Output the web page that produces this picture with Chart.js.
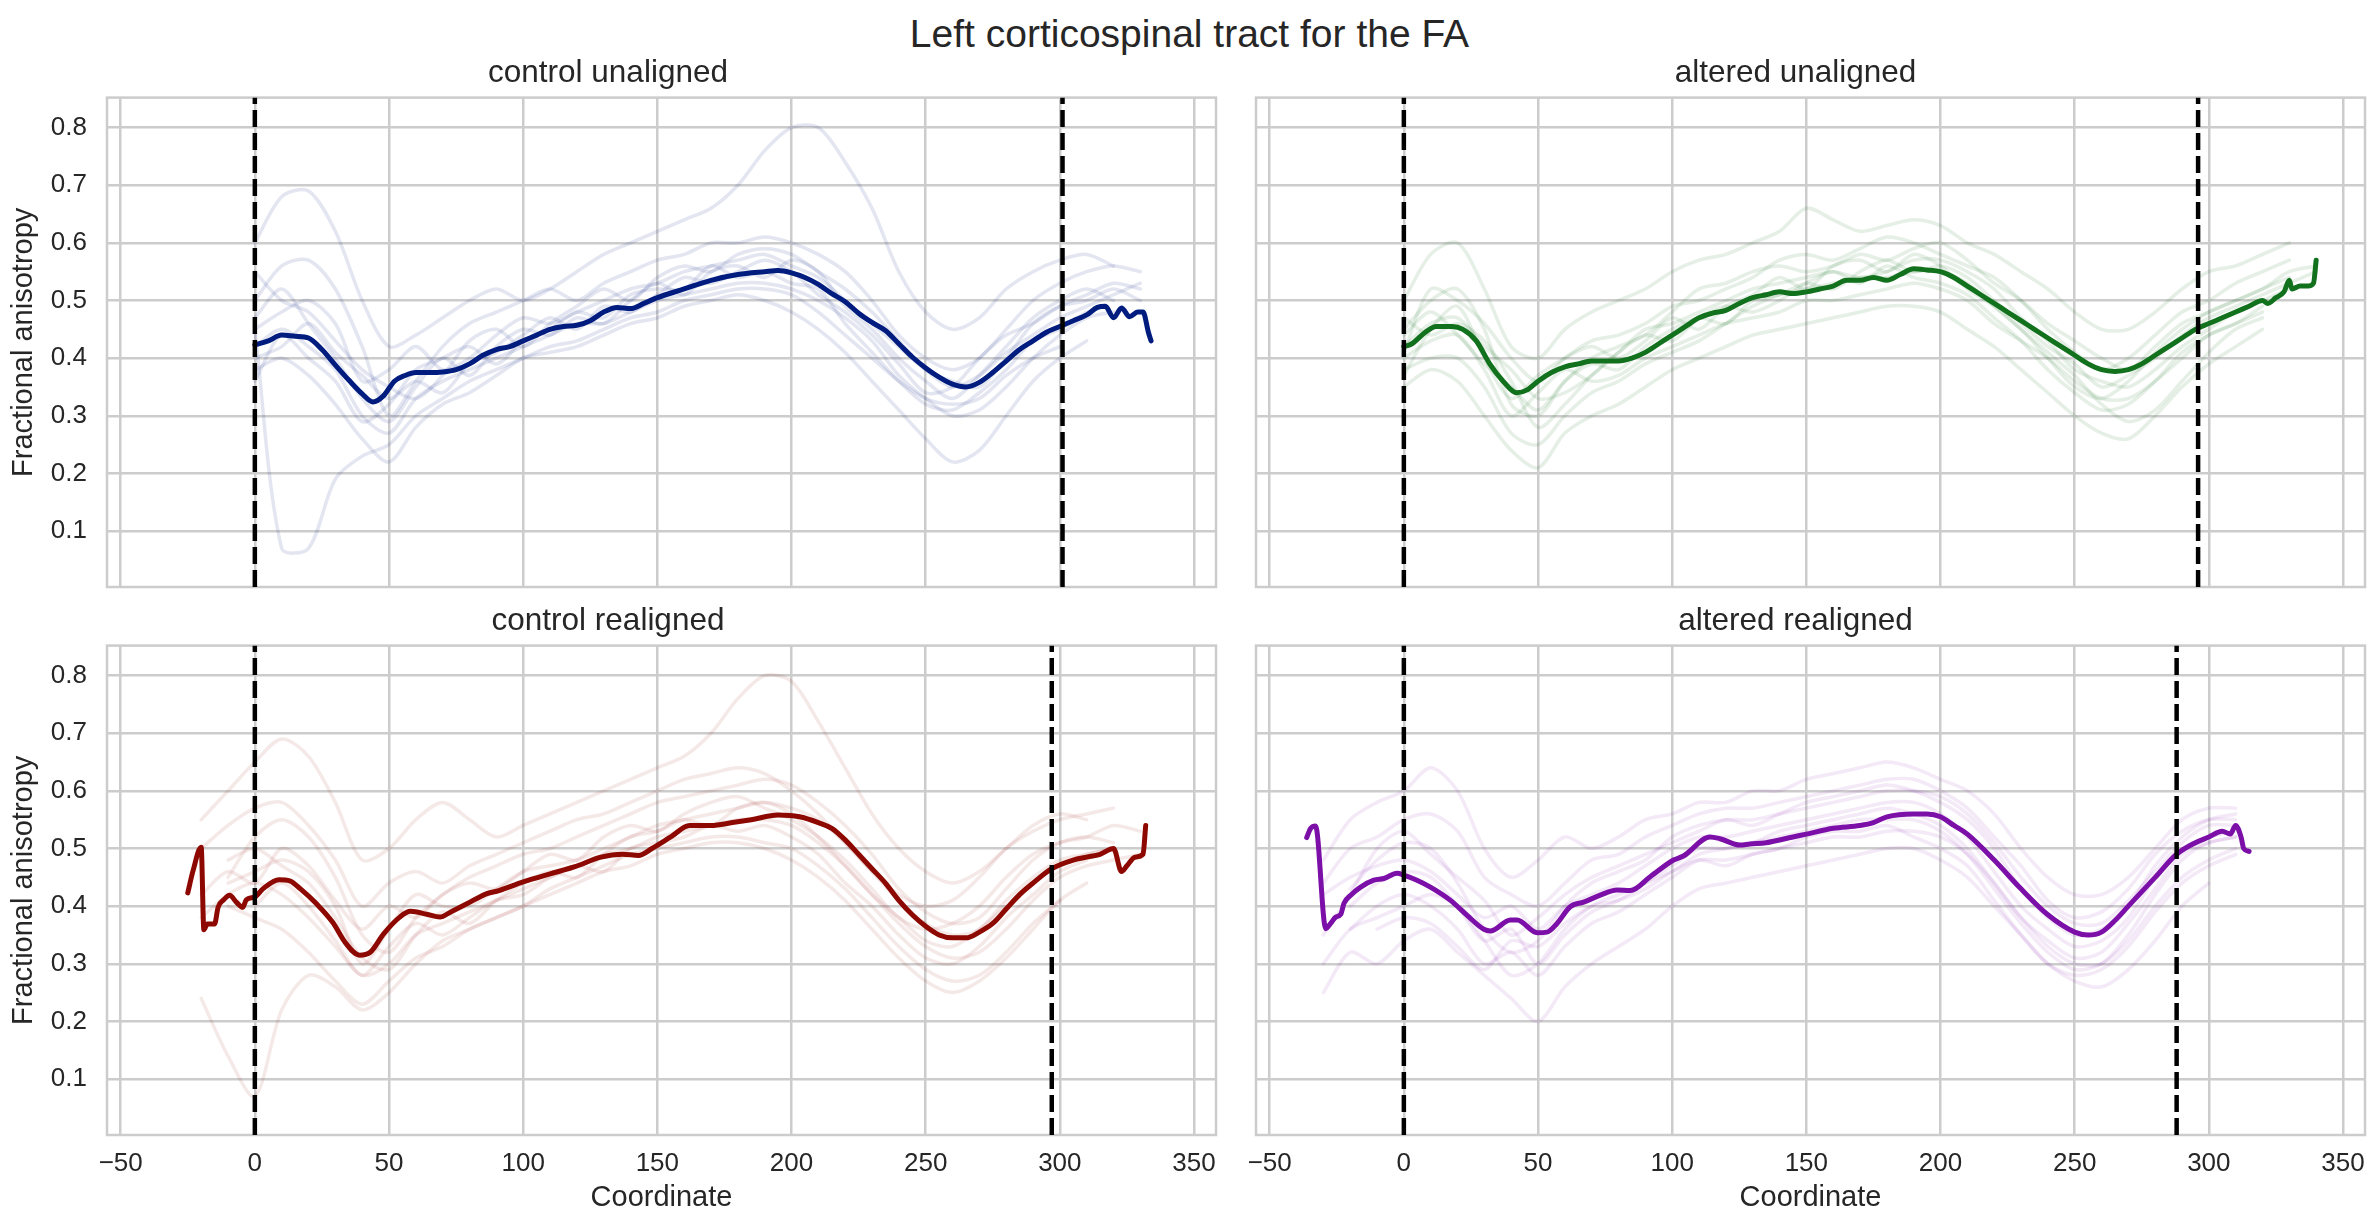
<!DOCTYPE html>
<html><head><meta charset="utf-8">
<script src="https://cdn.jsdelivr.net/npm/chart.js@4.4.1/dist/chart.umd.min.js"></script>
<style>
html,body{margin:0;padding:0;background:#fff;}
body{width:2379px;height:1229px;position:relative;overflow:hidden;font-family:"Liberation Sans",Arial,sans-serif;}
#sup{position:absolute;left:0;top:14px;width:2379px;text-align:center;font-size:39px;line-height:39px;color:#262626;white-space:nowrap;}
.w{position:absolute;}
</style></head><body>
<div id="sup">Left corticospinal tract for the FA</div>
<div class="w" style="left:0px;top:40px;width:1236px;height:587px"><canvas id="ctl" width="1236" height="587"></canvas></div>
<div class="w" style="left:1226px;top:40px;width:1153px;height:587px"><canvas id="ctr" width="1153" height="587"></canvas></div>
<div class="w" style="left:0px;top:597px;width:1236px;height:632px"><canvas id="cbl" width="1236" height="632"></canvas></div>
<div class="w" style="left:1226px;top:597px;width:1153px;height:632px"><canvas id="cbr" width="1153" height="632"></canvas></div>
<script>
// ---------- axes / labels ----------
const xTicks = [-50, 0, 50, 100, 150, 200, 250, 300, 350];
const yTicks = [0.1, 0.2, 0.3, 0.4, 0.5, 0.6, 0.7, 0.8];
const xLimits = [-55.1, 358.2];
const yLimits = [0.003, 0.852];
const panelTitles = ['control unaligned', 'altered unaligned', 'control realigned', 'altered realigned'];
const xLabel = 'Coordinate';
const yLabel = 'Fractional anisotropy';

// dashed boundary positions per panel
const tlBounds = [0, 301];
const trBounds = [0, 296];
const blBounds = [0, 297];
const brBounds = [0, 288];

// ---------- control unaligned ----------
const tlMeanX = [0,5,10,15,20,25,30,35,40,44,48,52,56,60,65,70,75,80,85,90,95,100,105,110,115,120,125,130,135,140,145,150,160,170,180,190,195,200,205,210,215,220,225,230,235,240,245,250,255,260,265,270,275,280,285,290,295,300,305,310,314,317,320,323,326,329,331,333,334];
const tlMeanY = [.423,.43,.44,.438,.435,.415,.388,.362,.338,.324,.335,.36,.37,.375,.375,.376,.38,.39,.405,.415,.42,.43,.44,.45,.455,.457,.465,.48,.488,.486,.495,.505,.52,.535,.545,.55,.552,.548,.54,.528,.512,.498,.478,.462,.448,.425,.402,.383,.367,.355,.35,.358,.375,.395,.415,.43,.445,.455,.465,.475,.488,.49,.47,.487,.472,.48,.48,.445,.43];
const tlFaintX = [0,10,20,30,40,50,60,70,80,90,100,110,120,130,140,150,160,170,180,190,200,210,220,230,240,250,260,270,280,290,300,310,320,330];
const tlFaintA = [.60,.68,.69,.62,.50,.42,.44,.47,.50,.52,.50,.52,.55,.58,.60,.62,.64,.66,.70,.76,.80,.80,.74,.66,.55,.48,.45,.47,.52,.55,.57,.58,.56];
const tlFaintB = [.45,.07,.07,.19,.23,.25,.30,.33,.36,.38,.40,.42,.43,.45,.47,.48,.50,.51,.52,.52,.51,.48,.44,.40,.36,.33,.32,.33,.37,.40,.42];
const tlFaintC = [.50,.56,.57,.52,.42,.30,.36,.42,.46,.48,.50,.52,.50,.53,.55,.57,.58,.60,.60,.61,.60,.58,.55,.50,.44,.40,.38,.40,.45,.50,.53,.55,.56,.55];
const tlFaintD = [.38,.40,.37,.32,.26,.22,.28,.32,.34,.37,.40,.41,.42,.44,.46,.47,.49,.50,.51,.50,.48,.45,.41,.36,.31,.26,.22,.24,.30,.36,.40,.43];
const tlFaintE = [.45,.48,.50,.46,.36,.38,.42,.38,.40,.44,.47,.46,.48,.50,.52,.53,.55,.56,.57,.58,.56,.54,.50,.46,.42,.38,.36,.35,.40,.46,.49,.50,.52,.50];
const tlFaintF = [.42,.45,.42,.38,.30,.27,.33,.36,.38,.40,.42,.44,.46,.46,.48,.50,.51,.52,.53,.53,.52,.50,.47,.43,.37,.33,.30,.31,.35,.40,.44,.47,.48];
const tlFaintG = [.47,.52,.46,.40,.33,.29,.35,.40,.37,.42,.45,.44,.47,.46,.50,.53,.51,.55,.56,.54,.57,.55,.49,.45,.40,.36,.33,.37,.42,.47,.50,.52,.50];
const tlFaintH = [.40,.42,.46,.41,.37,.33,.36,.34,.39,.41,.44,.47,.45,.49,.48,.51,.54,.53,.55,.57,.55,.51,.48,.44,.39,.34,.35,.40,.44,.46,.49,.51,.53,.52];
const tlFaintI = [.36,.44,.40,.36,.29,.32,.38,.40,.42,.39,.43,.45,.48,.47,.51,.52,.52,.56,.54,.55,.53,.52,.46,.41,.36,.32,.31,.34,.38,.43,.45,.48];
const tlFaintJ = [.55,.50,.48,.43,.38,.35,.33,.37,.43,.45,.42,.46,.49,.52,.50,.54,.56,.55,.58,.59,.58,.55,.52,.48,.43,.38,.35,.37,.41,.44,.47,.49,.51,.53];

// ---------- altered unaligned ----------
const trMeanX = [0,3,8,12,18,22,27,32,37,42,46,50,55,60,65,70,75,80,85,90,95,100,105,110,115,120,125,130,135,140,145,150,155,160,165,170,175,180,185,190,195,200,205,210,215,220,225,230,235,240,245,250,255,260,265,270,275,280,285,290,295,300,305,310,315,320,322,325,328,330,331,334,337,339,340];
const trMeanY = [.42,.425,.445,.455,.455,.45,.43,.39,.36,.34,.345,.36,.375,.385,.39,.395,.395,.395,.40,.41,.425,.44,.455,.47,.478,.483,.495,.505,.51,.515,.512,.515,.52,.525,.535,.535,.54,.535,.545,.555,.553,.55,.54,.525,.51,.495,.48,.465,.45,.435,.42,.405,.39,.38,.377,.38,.39,.405,.42,.435,.45,.46,.47,.48,.49,.50,.495,.505,.515,.535,.52,.525,.525,.53,.57];
const trFaintX = [0,10,20,30,40,50,60,70,80,90,100,110,120,130,140,150,160,170,180,190,200,210,220,230,240,250,260,270,280,290,300,310,320,330,340];
const trFaintA = [.50,.58,.60,.52,.42,.40,.45,.48,.50,.52,.55,.57,.58,.60,.62,.66,.64,.62,.63,.64,.63,.60,.58,.55,.52,.48,.45,.45,.48,.52,.55,.56,.58,.60];
const trFaintB = [.35,.38,.36,.30,.24,.21,.27,.30,.32,.35,.38,.40,.42,.44,.45,.46,.47,.48,.49,.49,.48,.45,.42,.38,.34,.30,.27,.26,.30,.35,.39,.42,.45];
const trFaintC = [.45,.50,.52,.45,.32,.30,.36,.40,.42,.44,.48,.52,.53,.55,.56,.55,.56,.58,.57,.59,.60,.57,.53,.50,.46,.43,.40,.38,.42,.46,.48,.50,.52,.55,.56];
const trFaintD = [.40,.43,.44,.38,.30,.34,.38,.36,.37,.40,.42,.44,.46,.47,.48,.50,.50,.51,.52,.53,.52,.50,.46,.43,.40,.36,.33,.33,.36,.40,.44,.46,.48];
const trFaintE = [.42,.46,.47,.42,.38,.33,.34,.37,.41,.45,.46,.48,.50,.52,.53,.54,.55,.54,.55,.57,.57,.55,.52,.47,.43,.38,.36,.35,.38,.42,.45,.48,.50,.52];
const trFaintF = [.38,.40,.40,.35,.27,.25,.30,.34,.36,.39,.41,.43,.46,.49,.51,.52,.53,.54,.54,.55,.55,.53,.49,.45,.41,.37,.32,.29,.31,.36,.41,.45,.47];
const trFaintG = [.44,.48,.44,.39,.35,.31,.36,.39,.38,.42,.45,.47,.46,.50,.51,.53,.52,.55,.57,.55,.56,.54,.50,.46,.42,.39,.35,.37,.40,.44,.47,.49,.51,.53,.55];
const trFaintH = [.37,.45,.49,.40,.33,.37,.40,.42,.40,.43,.47,.45,.49,.51,.54,.52,.56,.57,.55,.58,.56,.52,.49,.45,.40,.35,.33,.36,.41,.45,.48,.50,.52,.54];
const trFaintI = [.47,.44,.46,.43,.36,.28,.32,.37,.41,.44,.43,.47,.49,.48,.50,.53,.55,.53,.56,.54,.53,.51,.47,.43,.38,.34,.31,.32,.36,.41,.44,.46,.49];
const trFaintJ = [.41,.52,.50,.46,.40,.36,.40,.43,.44,.46,.49,.50,.52,.54,.57,.58,.57,.59,.61,.60,.58,.56,.54,.50,.45,.41,.38,.40,.44,.48,.50,.53,.55,.57];

// ---------- control realigned ----------
const blMeanX = [-25,-23,-20,-19,-17.7,-15,-13.7,-11.6,-9.4,-6.9,-4.5,-3.2,0,3,9,13,17,23,29,34,39,43,48,54,58,64,69,73,79,86,91,100,110,119,129,137,143,148,155,162,170,178,185,195,203,210,215,220,225,230,235,240,245,250,255,260,265,270,275,280,285,290,297,305,310,315,320,323,325,328,331,332];
const blMeanY = [.423,.462,.502,.359,.369,.369,.398,.411,.419,.407,.398,.411,.416,.43,.446,.444,.43,.404,.372,.335,.315,.32,.352,.381,.391,.386,.381,.39,.404,.421,.427,.442,.456,.468,.485,.49,.488,.50,.52,.54,.54,.545,.55,.558,.555,.545,.535,.515,.49,.465,.44,.41,.385,.365,.35,.345,.345,.355,.37,.395,.42,.44,.465,.48,.485,.49,.50,.46,.47,.485,.49,.54];
const blFaintX = [-20,-10,0,10,20,30,40,50,60,70,80,90,100,110,120,130,140,150,160,170,180,190,200,210,220,230,240,250,260,270,280,290,300,310,320,330];
const blFaintA = [.55,.60,.65,.69,.66,.58,.48,.50,.55,.58,.55,.52,.54,.56,.58,.60,.62,.64,.66,.70,.76,.80,.79,.72,.64,.56,.50,.46,.44,.46,.50,.54,.56,.55];
const blFaintB = [.24,.14,.07,.22,.28,.26,.22,.25,.30,.34,.36,.38,.40,.43,.45,.47,.49,.50,.51,.52,.52,.51,.50,.47,.43,.38,.33,.29,.27,.28,.32,.37,.41];
const blFaintC = [null,.45,.52,.55,.52,.45,.35,.32,.38,.42,.45,.47,.49,.50,.52,.54,.56,.58,.59,.60,.61,.62,.61,.58,.54,.49,.43,.39,.37,.38,.43,.48,.51,.52,.51];
const blFaintD = [null,.40,.38,.36,.32,.27,.23,.27,.31,.33,.36,.38,.40,.42,.44,.46,.47,.49,.50,.51,.51,.50,.48,.45,.41,.36,.31,.27,.25,.27,.31,.36,.41,.44];
const blFaintE = [null,.44,.46,.48,.46,.40,.30,.36,.42,.40,.40,.43,.46,.47,.48,.50,.52,.54,.55,.56,.57,.58,.57,.55,.51,.46,.41,.37,.35,.36,.41,.45,.48,.49,.50];
const blFaintF = [.38,.42,.44,.42,.38,.33,.28,.30,.35,.37,.39,.41,.43,.45,.47,.49,.50,.52,.53,.54,.55,.55,.54,.51,.47,.42,.37,.33,.31,.32,.36,.41,.45,.47,.48,.49];
const blFaintG = [null,.48,.50,.47,.44,.38,.31,.29,.35,.39,.37,.41,.44,.46,.45,.49,.52,.53,.55,.54,.57,.58,.56,.52,.47,.42,.38,.34,.33,.36,.40,.44,.47,.49,.50];
const blFaintH = [.42,.46,.44,.50,.47,.41,.36,.40,.38,.42,.44,.43,.46,.49,.48,.52,.54,.53,.56,.58,.59,.57,.55,.52,.48,.43,.38,.36,.37,.40,.45,.49,.51,.52,.54,.53];
const blFaintI = [null,null,.40,.44,.40,.34,.28,.33,.37,.35,.38,.41,.42,.45,.47,.46,.50,.51,.52,.54,.53,.54,.52,.49,.44,.40,.35,.31,.30,.33,.38,.42,.46,.48];
const blFaintJ = [.50,.54,.57,.58,.54,.48,.40,.44,.46,.44,.47,.49,.51,.53,.55,.56,.58,.60,.62,.63,.64,.63,.60,.56,.51,.46,.42,.40,.41,.45,.50,.53,.55,.56,.57];

// ---------- altered realigned ----------
const brMeanX = [-36.2,-34.7,-32.9,-29.1,-27.3,-25.4,-23.5,-22.3,-19.8,-16.1,-11.2,-7.4,-2.5,0,4.9,9.9,17.4,23.6,29.8,32.3,39.7,42.2,49.7,53.4,57.1,62,67,73.2,79.4,84.4,91.8,100.5,104.2,114.1,117.8,125.3,129,135,145,150,160,170,175,180,190,195,200,205,210,220,230,240,250,255,260,265,270,280,288,295,300,305,308,310,312,313,315];
const brMeanY = [.519,.535,.539,.361,.370,.381,.386,.405,.419,.433,.445,.448,.457,.454,.445,.433,.410,.384,.360,.357,.376,.376,.354,.355,.370,.399,.407,.419,.428,.427,.451,.480,.487,.520,.517,.506,.508,.51,.52,.525,.535,.54,.545,.555,.56,.56,.555,.54,.525,.48,.43,.385,.355,.35,.355,.375,.40,.45,.49,.51,.52,.53,.525,.54,.52,.50,.495];
const brFaintX = [-30,-20,-10,0,10,20,30,40,50,60,70,80,90,100,110,120,130,140,150,160,170,180,190,200,210,220,230,240,250,260,270,280,290,300,310];
const brFaintA = [.48,.55,.58,.60,.64,.60,.50,.45,.48,.52,.50,.52,.55,.56,.58,.58,.60,.60,.62,.63,.64,.65,.64,.62,.60,.56,.50,.45,.42,.42,.45,.50,.55,.57,.57];
const brFaintB = [.25,.32,.30,.34,.36,.32,.28,.24,.20,.26,.30,.33,.36,.40,.43,.44,.45,.46,.47,.48,.49,.50,.50,.48,.45,.40,.35,.30,.27,.26,.29,.34,.40,.44];
const brFaintC = [null,.43,.48,.51,.50,.44,.36,.32,.34,.40,.44,.46,.48,.52,.54,.55,.55,.56,.57,.58,.59,.60,.60,.59,.56,.51,.45,.40,.37,.37,.41,.46,.51,.54,.54];
const brFaintD = [null,.36,.40,.42,.40,.36,.30,.32,.28,.33,.37,.39,.42,.45,.48,.48,.49,.50,.51,.52,.52,.53,.53,.52,.49,.44,.38,.33,.30,.30,.34,.40,.45,.48,.50];
const brFaintE = [.42,.45,.47,.48,.46,.42,.38,.40,.36,.40,.42,.44,.47,.50,.52,.52,.53,.54,.55,.56,.57,.58,.58,.56,.52,.46,.40,.36,.33,.34,.38,.45,.50,.52,.53];
const brFaintF = [.30,.36,.38,.40,.42,.40,.34,.28,.30,.36,.40,.42,.44,.46,.49,.50,.51,.52,.53,.54,.55,.55,.55,.53,.49,.43,.37,.32,.29,.30,.35,.42,.48,.51,.52];
const brFaintG = [null,.40,.44,.46,.45,.40,.34,.36,.30,.35,.39,.41,.44,.47,.50,.50,.51,.53,.54,.55,.56,.57,.56,.54,.50,.44,.38,.34,.31,.32,.37,.43,.49,.51,.52];
const brFaintH = [.35,.42,.50,.53,.49,.45,.41,.35,.38,.42,.45,.47,.49,.51,.53,.55,.54,.56,.58,.59,.60,.61,.60,.58,.55,.50,.43,.38,.35,.36,.40,.47,.52,.55,.56];
const brFaintI = [null,null,.36,.38,.37,.33,.29,.34,.33,.37,.40,.41,.43,.46,.48,.47,.49,.50,.52,.53,.53,.54,.52,.50,.47,.41,.35,.30,.28,.29,.33,.39,.44,.47,.49];
const brFaintJ = [.44,.50,.52,.55,.56,.53,.45,.42,.40,.44,.48,.49,.52,.54,.56,.57,.57,.58,.59,.60,.61,.62,.62,.60,.57,.52,.47,.41,.38,.39,.43,.49,.53,.55,.55];

// ---------- colours ----------
const colBlue = '#001c7f', colGreen = '#12711c', colRed = '#8c0800', colPurple = '#7b0fa8';
const fBlue = 'rgba(0,28,127,0.11)', fGreen = 'rgba(18,113,28,0.11)', fRed = 'rgba(140,8,0,0.09)', fPurple = 'rgba(123,15,168,0.09)';

const FONT = '"Liberation Sans", Arial, sans-serif';
const TEXT = '#262626';
const GRID = '#cccccc';

function pts(xs, ys) {
  const out = [];
  for (let i = 0; i < xs.length && i < ys.length; i++) out.push({x: xs[i], y: ys[i]});
  return out;
}

const framePlugin = {
  id: 'frame',
  beforeDatasetsDraw(chart) {
    const {ctx, chartArea: a} = chart;
    ctx.save();
    ctx.strokeStyle = GRID;
    ctx.lineWidth = 2.5;
    ctx.strokeRect(a.left, a.top, a.right - a.left, a.bottom - a.top);
    ctx.restore();
  }
};

function makePanel(id, p) {
  const ds = [];
  p.bounds.forEach(b => ds.push({
    data: [{x: b, y: yLimits[0]}, {x: b, y: yLimits[1]}],
    borderColor: '#000', borderWidth: 4.5, borderDash: [17, 6], borderCapStyle: 'butt',
    pointRadius: 0, tension: 0, order: 0
  }));
  ds.push({
    data: pts(p.meanX, p.meanY), borderColor: p.color, borderWidth: 5,
    pointRadius: 0, tension: 0.3, cubicInterpolationMode: 'monotone',
    borderJoinStyle: 'round', borderCapStyle: 'round', order: 1
  });
  p.faint.forEach(f => ds.push({
    data: pts(p.faintX, f), borderColor: p.faintColor, borderWidth: 3.5,
    pointRadius: 0, tension: 0.3, borderJoinStyle: 'round', borderCapStyle: 'round', order: 2
  }));
  const top = p.row === 0;
  return new Chart(document.getElementById(id), {
    type: 'line',
    data: {datasets: ds},
    plugins: [framePlugin],
    options: {
      responsive: false, maintainAspectRatio: false, animation: false, events: [],
      layout: {padding: {left: 0, right: p.padRight, top: top ? 14.4 : 5.4, bottom: 0}},
      plugins: {
        legend: {display: false}, tooltip: {enabled: false},
        title: {display: true, text: p.title, color: TEXT, font: {family: FONT, size: 31.5, weight: 'normal'}, padding: {top: 0, bottom: 5.4}}
      },
      scales: {
        x: {
          type: 'linear', min: xLimits[0], max: xLimits[1],
          afterBuildTicks: s => { s.ticks = xTicks.map(v => ({value: v})); },
          afterFit: s => { s.height = top ? 40 : 94; },
          grid: {color: GRID, lineWidth: 2.5, drawTicks: false},
          border: {display: false},
          ticks: {display: !top, autoSkip: false, maxRotation: 0, padding: 13.4, color: TEXT,
                  font: {family: FONT, size: 26},
                  callback: v => v < 0 ? '\u2212' + Math.abs(v) : String(v)},
          title: {display: !top, text: xLabel, color: TEXT, font: {family: FONT, size: 29}, padding: {top: 0, bottom: 13.6}}
        },
        y: {
          type: 'linear', min: yLimits[0], max: yLimits[1],
          afterBuildTicks: s => { s.ticks = yTicks.map(v => ({value: v})); },
          afterFit: s => { s.width = p.showY ? 107 : 30; },
          grid: {color: GRID, lineWidth: 2.5, drawTicks: false},
          border: {display: false},
          ticks: {display: p.showY, padding: 20, color: TEXT, font: {family: FONT, size: 26},
                  callback: v => Number(v).toFixed(1)},
          title: {display: p.showY, text: yLabel, color: TEXT, font: {family: FONT, size: 29}, padding: {top: 6.9, bottom: 0}}
        }
      }
    }
  });
}

makePanel('ctl', {title: panelTitles[0], row: 0, showY: true, padRight: 20, color: colBlue, faintColor: fBlue,
  meanX: tlMeanX, meanY: tlMeanY, faintX: tlFaintX,
  faint: [tlFaintA, tlFaintB, tlFaintC, tlFaintD, tlFaintE, tlFaintF, tlFaintG, tlFaintH, tlFaintI, tlFaintJ], bounds: tlBounds});
makePanel('ctr', {title: panelTitles[1], row: 0, showY: false, padRight: 14, color: colGreen, faintColor: fGreen,
  meanX: trMeanX, meanY: trMeanY, faintX: trFaintX,
  faint: [trFaintA, trFaintB, trFaintC, trFaintD, trFaintE, trFaintF, trFaintG, trFaintH, trFaintI, trFaintJ], bounds: trBounds});
makePanel('cbl', {title: panelTitles[2], row: 1, showY: true, padRight: 20, color: colRed, faintColor: fRed,
  meanX: blMeanX, meanY: blMeanY, faintX: blFaintX,
  faint: [blFaintA, blFaintB, blFaintC, blFaintD, blFaintE, blFaintF, blFaintG, blFaintH, blFaintI, blFaintJ], bounds: blBounds});
makePanel('cbr', {title: panelTitles[3], row: 1, showY: false, padRight: 14, color: colPurple, faintColor: fPurple,
  meanX: brMeanX, meanY: brMeanY, faintX: brFaintX,
  faint: [brFaintA, brFaintB, brFaintC, brFaintD, brFaintE, brFaintF, brFaintG, brFaintH, brFaintI, brFaintJ], bounds: brBounds});
</script>
</body></html>
